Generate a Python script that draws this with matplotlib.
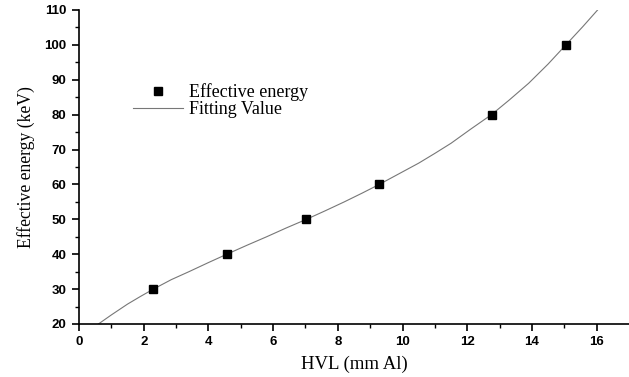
import matplotlib.pyplot as plt
import numpy as np

# measured points
hvl = np.array([2.3, 4.57, 7.03, 9.28, 12.75, 15.05])
energy = np.array([30, 40, 50, 60, 80, 100])

# fitted curve
fit_hvl = np.array([0.6, 1.0, 1.5, 1.9, 2.3, 2.85, 3.4, 4.0, 4.57, 5.2, 5.8, 6.4,
                    7.03, 7.6, 8.2, 8.75, 9.28, 9.9, 10.5, 11.0, 11.5, 12.1,
                    12.75, 13.3, 13.9, 14.5, 15.05, 15.57, 16.03])
fit_energy = np.array([20.0, 22.6, 25.7, 27.9, 30.0, 32.7, 35.0, 37.6, 40.0, 42.6,
                       45.0, 47.5, 50.0, 52.4, 55.0, 57.5, 60.0, 63.1, 66.1, 68.9,
                       71.8, 75.8, 80.0, 84.2, 89.0, 94.5, 100.0, 105.2, 110.0])

fig = plt.figure(figsize=(6.29, 3.77), dpi=100)
ax = fig.add_axes([0.1256, 0.1406, 0.8744, 0.833])

ax.plot(fit_hvl, fit_energy, color='#777777', linewidth=0.8, label='Fitting Value')
ax.plot(hvl, energy, 's', color='black', markersize=6, linestyle='none',
        label='Effective energy')

ax.set_xlim(0, 17.0)
ax.set_ylim(20, 110)
ax.set_xticks(np.arange(0, 17, 2))
ax.set_xticks(np.arange(1, 17, 2), minor=True)
ax.set_yticks(np.arange(20, 111, 10))
ax.set_yticks(np.arange(25, 110, 10), minor=True)

for s in ['top', 'right']:
    ax.spines[s].set_visible(False)
for s in ['left', 'bottom']:
    ax.spines[s].set_linewidth(1.2)

ax.tick_params(which='major', direction='out', length=5, width=1.2, pad=4)
ax.tick_params(which='minor', direction='out', length=3, width=1)
for lab in ax.get_xticklabels() + ax.get_yticklabels():
    lab.set_fontfamily('Liberation Sans')
    lab.set_fontweight('bold')
    lab.set_fontsize(9.5)

ax.set_xlabel('HVL (mm Al)', fontfamily='Liberation Serif', fontsize=13.5, labelpad=5)
ax.set_ylabel('Effective energy (keV)', fontfamily='Liberation Serif', fontsize=12.7, labelpad=7)

h, l = ax.get_legend_handles_labels()
ax.legend([h[1], h[0]], [l[1], l[0]], loc='upper left', bbox_to_anchor=(0.068, 0.818),
          frameon=False, prop={'family': 'Liberation Serif', 'size': 13},
          handlelength=2.8, handletextpad=0.3, labelspacing=0.0)

plt.savefig('out.png', dpi=100)
